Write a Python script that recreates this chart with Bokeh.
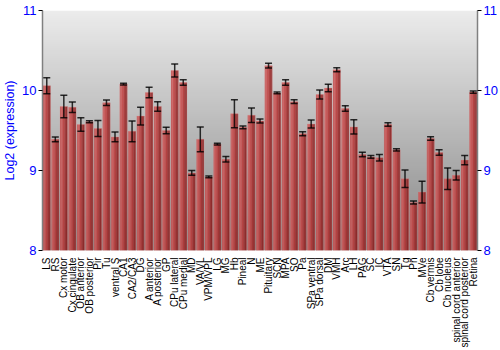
import numpy as np
from bokeh.plotting import figure
from bokeh.models import (ColumnDataSource, FactorRange, Range1d, LinearAxis,
                          FixedTicker, Whisker, TeeHead)
from bokeh.transform import dodge
from bokeh.embed import file_html
from bokeh.resources import INLINE

regions = ["LS", "RS", "Cx motor", "Cx cingulate", "OB anterior", "OB posterior",
           "Pir", "Tu", "ventral S", "CA1", "CA2/CA3", "DG", "A anterior",
           "A posterior", "GP", "CPu lateral", "CPu medial", "MD", "VA/VL",
           "VPM/VPL", "LG", "MG", "Hb", "Pineal", "N", "ME", "Pituitary", "SCN",
           "MPA", "SO", "Pa", "SPa ventral", "SPa dorsal", "DM", "VMH", "Arc",
           "LH", "PAG", "SC", "IC", "VTA", "SN", "Tg", "Pn", "MVe", "Cb vermis",
           "Cb lobe", "Cb nucleus", "spinal cord anterior",
           "spinal cord posterior", "Retina"]

expression = [10.06, 9.39, 9.80, 9.79, 9.575, 9.61, 9.525, 9.846, 9.42, 10.08,
              9.49, 9.68, 9.975, 9.80, 9.50, 10.25, 10.10, 8.97, 9.39, 8.92,
              9.33, 9.14, 9.71, 9.54, 9.69, 9.62, 10.31, 9.97, 10.10, 9.86,
              9.46, 9.58, 9.95, 10.03, 10.26, 9.775, 9.545, 9.20, 9.17, 9.16,
              9.575, 9.258, 8.896, 8.60, 8.73, 9.40, 9.225, 8.896, 8.94, 9.13,
              9.98]

error = [0.10, 0.03, 0.14, 0.065, 0.085, 0.012, 0.10, 0.035, 0.06, 0.01,
         0.13, 0.11, 0.067, 0.06, 0.04, 0.08, 0.035, 0.03, 0.155, 0.01,
         0.01, 0.035, 0.175, 0.017, 0.09, 0.025, 0.03, 0.01, 0.033, 0.023,
         0.025, 0.05, 0.056, 0.047, 0.025, 0.035, 0.09, 0.027, 0.017, 0.04,
         0.023, 0.013, 0.11, 0.02, 0.135, 0.023, 0.035, 0.135, 0.06, 0.058,
         0.015]

y_ticks = [8, 9, 10, 11]
y_label = "Log2 (expression)"

FONT = "Liberation Sans"
BLUE = "#0000ff"

src = ColumnDataSource(dict(
    name=regions,
    value=expression,
    upper=[v + e for v, e in zip(expression, error)],
    lower=[v - e for v, e in zip(expression, error)],
))

p = figure(width=500, height=350, x_range=FactorRange(*regions, range_padding=0),
           y_range=Range1d(y_ticks[0], y_ticks[-1]),
           output_backend="svg", toolbar_location=None,
           min_border_left=34, min_border_right=20, min_border_top=10,
           min_border_bottom=100)
p.outline_line_color = None
p.background_fill_color = "#ffffff"
p.border_fill_color = "#ffffff"

# vertical gray gradient background
H = 120
t = np.linspace(0, 1, H)  # 0 bottom -> 1 top
g_val = (134 + (236 - 134) * t).astype(np.uint32)
img = np.zeros((H, 1), dtype=np.uint32)
view = img.view(dtype=np.uint8).reshape((H, 1, 4))
view[:, 0, 0] = g_val
view[:, 0, 1] = g_val
view[:, 0, 2] = g_val
view[:, 0, 3] = 255
p.image_rgba(image=[img], x=0, y=y_ticks[0], dw=len(regions),
             dh=y_ticks[-1] - y_ticks[0])

# grid
p.xgrid.grid_line_color = None
p.ygrid.ticker = FixedTicker(ticks=y_ticks)
p.ygrid.grid_line_color = "#f2f2f2"
p.ygrid.grid_line_width = 2
p.ygrid.level = "image"

# bars with horizontal gradient
stops = [(0.0, (170, 44, 44)), (0.15, (210, 88, 88)), (0.5, (186, 52, 52)),
         (1.0, (126, 20, 20))]

def col(f):
    for (a, ca), (b, cb) in zip(stops[:-1], stops[1:]):
        if a <= f <= b:
            u = (f - a) / (b - a)
            c = [int(round(ca[i] + (cb[i] - ca[i]) * u)) for i in range(3)]
            return "#%02x%02x%02x" % tuple(c)
    return "#%02x%02x%02x" % stops[-1][1]

W = 0.86
K = 10
for k in range(K):
    off = -W / 2 + (k + 0.5) * W / K
    c = col((k + 0.5) / K)
    p.vbar(x=dodge("name", off, range=p.x_range), top="value", bottom=y_ticks[0],
           width=W / K * 1.08, source=src, fill_color=c, line_color=None)
p.vbar(x="name", top="value", bottom=y_ticks[0], width=W, source=src,
       fill_color=None, line_color="#e09090", line_alpha=0.45, line_width=0.8)

wh = Whisker(source=src, base="name", upper="upper", lower="lower",
             level="overlay", line_color="black", line_alpha=0.8, line_width=1.5,
             upper_head=TeeHead(size=7, line_color="black", line_alpha=0.8, line_width=1.5),
             lower_head=TeeHead(size=7, line_color="black", line_alpha=0.8, line_width=1.5))
p.add_layout(wh)

def style_y(ax):
    ax.ticker = FixedTicker(ticks=y_ticks)
    ax.major_label_text_color = BLUE
    ax.major_label_text_font = FONT
    ax.major_label_text_font_size = "13px"
    ax.axis_line_color = "#808080"
    ax.axis_line_width = 1.5
    ax.major_tick_line_color = "black"
    ax.major_tick_out = 4
    ax.major_tick_in = 0
    ax.minor_tick_line_color = None
    ax.major_label_standoff = 2

style_y(p.yaxis[0])
p.yaxis[0].axis_label = y_label
p.yaxis[0].axis_label_text_color = BLUE
p.yaxis[0].axis_label_text_font = FONT
p.yaxis[0].axis_label_text_font_style = "normal"
p.yaxis[0].axis_label_text_font_size = "12.5px"
p.yaxis[0].axis_label_standoff = 2

ry = LinearAxis()
style_y(ry)
p.add_layout(ry, "right")

xa = p.xaxis[0]
xa.axis_line_color = None
xa.major_tick_line_color = None
xa.minor_tick_line_color = None
xa.major_label_orientation = np.pi / 2
xa.major_label_text_font = FONT
xa.major_label_text_font_size = "10px"
xa.major_label_text_color = "black"
xa.major_label_standoff = 1

open("out.html", "w").write(file_html(p, INLINE))
